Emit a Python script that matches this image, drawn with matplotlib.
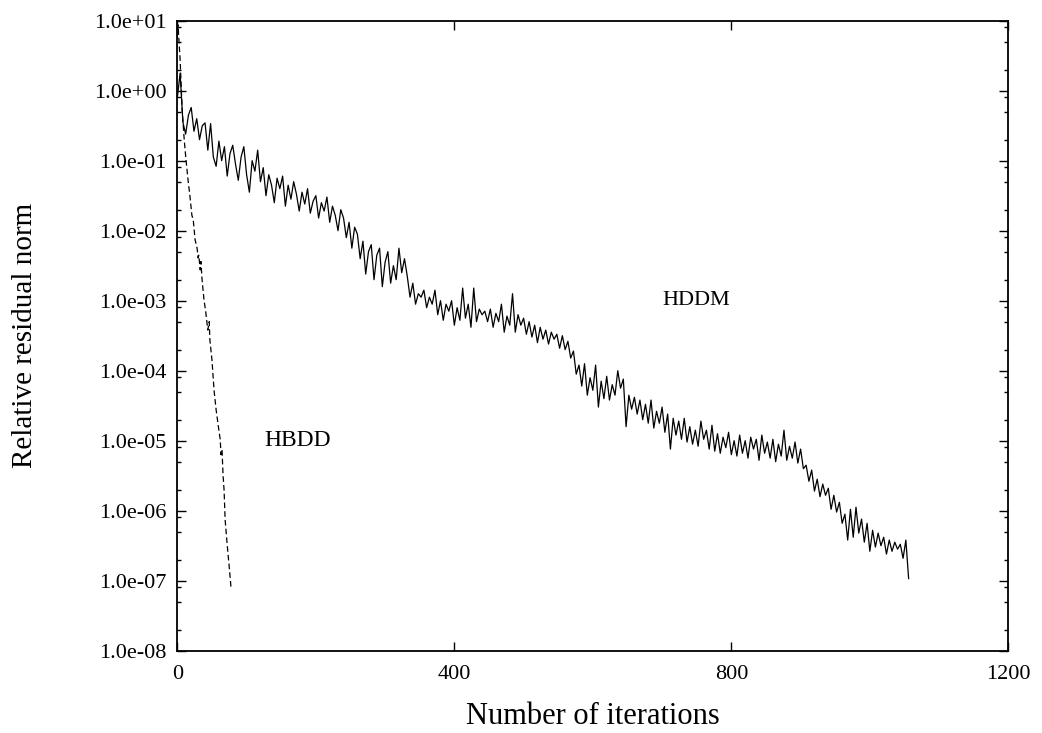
import numpy as np
import matplotlib
matplotlib.use("Agg")
import matplotlib.pyplot as plt
from matplotlib.ticker import FixedLocator, FuncFormatter

# ---------------- data ----------------
# HBDD: iteration numbers and log10 of relative residual norm
hbdd_iter = [0, 1, 4, 7, 10, 12.5, 15.5, 18, 21, 23, 25.6, 28.5, 30, 31, 33, 34,
             35.7, 38.5, 41, 44, 46, 47, 50, 53, 56, 59, 62, 63, 64.5, 66,
             67.5, 69, 72, 74.7, 77.5]
hbdd_log10 = [0.75, 0.94, 0.44, -0.28, -0.71, -0.99, -1.28, -1.49, -1.78, -1.85,
              -2.13, -2.25, -2.39, -2.35, -2.56, -2.44, -2.70, -2.99, -3.16,
              -3.42, -3.30, -3.56, -3.85, -4.28, -4.56, -4.78, -4.99, -5.20,
              -5.13, -5.49, -5.71, -6.13, -6.49, -6.78, -7.10]

# HDDM: one value every 4 iterations (0, 4, 8, ..., 1056), log10 of residual
hddm_step = 4
hddm_log10 = [
    -0.10, 0.25, -0.45, -0.62, -0.35, -0.24, -0.58, -0.40, -0.70, -0.50,
    -0.46, -0.85, -0.47, -0.95, -1.08, -0.72, -1.00, -0.80, -1.22, -0.90,
    -0.78, -1.05, -1.28, -0.95, -0.80, -1.20, -1.45, -1.00, -1.15, -0.85,
    -1.30, -1.10, -1.50, -1.20, -1.35, -1.60, -1.25, -1.40, -1.22, -1.65,
    -1.35, -1.55, -1.30, -1.48, -1.72, -1.45, -1.62, -1.40, -1.75, -1.58,
    -1.50, -1.82, -1.60, -1.72, -1.52, -1.88, -1.65, -1.78, -2.00, -1.70,
    -1.82, -2.10, -1.88, -2.25, -1.95, -2.05, -2.40, -2.15, -2.62, -2.30,
    -2.20, -2.70, -2.35, -2.25, -2.80, -2.45, -2.30, -2.75, -2.50, -2.70,
    -2.25, -2.60, -2.40, -2.65, -2.95, -2.75, -3.05, -2.90, -2.95, -2.85,
    -3.10, -2.95, -3.05, -2.85, -3.20, -3.00, -3.28, -3.05, -3.15, -3.00,
    -3.35, -3.10, -3.28, -2.82, -3.25, -3.05, -3.38, -2.82, -3.30, -3.12,
    -3.20, -3.15, -3.30, -3.12, -3.38, -3.18, -3.30, -3.05, -3.45, -3.22,
    -3.35, -2.90, -3.45, -3.20, -3.35, -3.25, -3.48, -3.30, -3.52, -3.35,
    -3.60, -3.38, -3.55, -3.42, -3.62, -3.45, -3.55, -3.48, -3.68, -3.50,
    -3.70, -3.58, -3.82, -3.72, -4.05, -3.92, -4.22, -3.90, -4.35, -4.10,
    -4.28, -3.92, -4.52, -4.15, -4.40, -4.08, -4.42, -4.20, -4.35, -4.00,
    -4.25, -4.12, -4.80, -4.35, -4.55, -4.38, -4.62, -4.42, -4.70, -4.48,
    -4.75, -4.42, -4.82, -4.58, -4.75, -4.52, -4.88, -4.62, -5.12, -4.68,
    -4.92, -4.72, -4.98, -4.68, -5.02, -4.80, -5.05, -4.85, -5.08, -4.72,
    -4.98, -4.85, -5.12, -4.78, -5.15, -4.90, -5.18, -4.95, -5.10, -4.88,
    -5.20, -5.00, -5.22, -4.92, -5.18, -5.00, -5.25, -4.95, -5.12, -4.98,
    -5.28, -4.92, -5.18, -5.02, -5.25, -4.98, -5.30, -5.05, -5.22, -4.85,
    -5.28, -5.08, -5.25, -5.02, -5.32, -5.12, -5.40, -5.35, -5.58, -5.42,
    -5.72, -5.55, -5.80, -5.62, -5.78, -5.68, -5.98, -5.78, -6.02, -5.88,
    -6.18, -6.05, -6.42, -5.98, -6.38, -5.95, -6.32, -6.12, -6.45, -6.18,
    -6.58, -6.28, -6.52, -6.32, -6.50, -6.38, -6.62, -6.42, -6.58, -6.45,
    -6.55, -6.48, -6.68, -6.42, -6.97,
]

x_ticks = [0, 400, 800, 1200]
y_decades = list(range(-8, 2))
series_labels = ["HDDM", "HBDD"]
x_label = "Number of iterations"
y_label = "Relative residual norm"

# ---------------- plotting ----------------
plt.rcParams['font.family'] = ['Liberation Serif', 'DejaVu Serif']

fig = plt.figure(figsize=(10.42, 7.33), dpi=100)
ax = fig.add_axes([0.1702, 0.1123, 0.9677 - 0.1702, 0.9718 - 0.1123])

hddm_x = np.arange(len(hddm_log10)) * hddm_step
hddm_y = 10.0 ** np.array(hddm_log10)
hbdd_y = 10.0 ** np.array(hbdd_log10)

ax.plot(hddm_x, hddm_y, color='black', lw=0.9)
ax.plot(hbdd_iter, hbdd_y, color='black', lw=0.9, dashes=(4.5, 2.5))

ax.set_yscale('log')
ax.set_xlim(0, 1200)
ax.set_ylim(1e-8, 1e1)

ax.xaxis.set_major_locator(FixedLocator(x_ticks))
ax.xaxis.set_minor_locator(FixedLocator([]))
ax.yaxis.set_major_locator(FixedLocator([10.0 ** d for d in y_decades]))
minor = [m * 10.0 ** d for d in y_decades[:-1] for m in (2, 5, 8)]
ax.yaxis.set_minor_locator(FixedLocator(minor))
ax.yaxis.set_major_formatter(FuncFormatter(lambda v, p: "%.1e" % v))
ax.yaxis.set_minor_formatter(FuncFormatter(lambda v, p: ""))

ax.tick_params(which='both', direction='in', top=True, right=True,
               labelsize=16, width=1.0, colors='black')
ax.tick_params(which='major', length=6.5)
ax.tick_params(axis='x', which='major', pad=10)
ax.tick_params(axis='y', which='major', pad=8)
ax.tick_params(which='minor', length=3.2)
for s in ax.spines.values():
    s.set_linewidth(1.3)

ax.set_xlabel(x_label, fontsize=22, va='center')
ax.xaxis.set_label_coords(0.5, -0.105)
ax.set_ylabel(y_label, fontsize=21, va='center')
ax.yaxis.set_label_coords(-0.183, 0.5)

ax.text(750, 1e-3, series_labels[0], fontsize=16, ha='center', va='center')
ax.text(174, 1e-5, series_labels[1], fontsize=17, ha='center', va='center')

fig.savefig("out.png", dpi=100)
